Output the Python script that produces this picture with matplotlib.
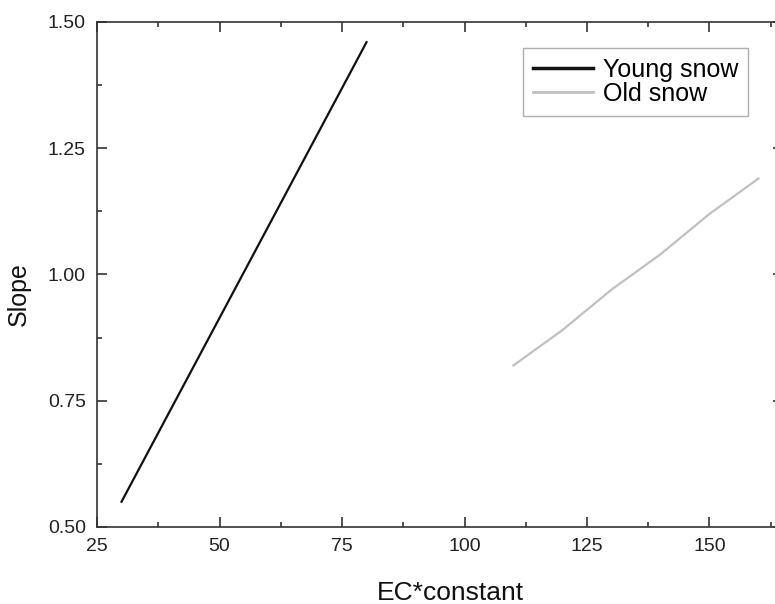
import matplotlib.pyplot as plt
from matplotlib.ticker import MultipleLocator

plt.rcParams['font.family'] = ['Liberation Sans', 'DejaVu Sans']

# data
young_x = [30, 40, 50, 60, 70, 80]
young_y = [0.550, 0.732, 0.914, 1.096, 1.278, 1.460]
old_x = [110, 120, 130, 140, 150, 160]
old_y = [0.82, 0.89, 0.97, 1.04, 1.12, 1.19]

fig = plt.figure(figsize=(7.75, 6.04), dpi=100)
ax = fig.add_axes([0.1252, 0.1275, 0.8851, 0.8361])

ax.plot(young_x, young_y, color='#111111', lw=1.6, label='Young snow')
ax.plot(old_x, old_y, color='#c0c0c0', lw=1.6, label='Old snow')

ax.set_xlim(25, 165)
ax.set_ylim(0.5, 1.5)
ax.xaxis.set_major_locator(MultipleLocator(25))
ax.xaxis.set_minor_locator(MultipleLocator(12.5))
ax.yaxis.set_major_locator(MultipleLocator(0.25))
ax.yaxis.set_minor_locator(MultipleLocator(0.125))
ax.yaxis.set_major_formatter(plt.FormatStrFormatter('%.2f'))

for s in ax.spines.values():
    s.set_linewidth(1.2)
    s.set_color('#333333')
ax.tick_params(which='both', direction='in', top=True, right=True,
               color='#333333', width=1.2, labelsize=14, pad=8, labelcolor='#222222')
ax.tick_params(which='major', length=7)
ax.tick_params(which='minor', length=3.5)

ax.set_xlabel('EC*constant', fontsize=19, labelpad=19, color='#111111')
ax.set_ylabel('Slope', fontsize=18, labelpad=12, color='#111111')
ax.xaxis.label.set_x(0.5146)
ax.yaxis.label.set_y(0.461)

leg = ax.legend(loc='upper right', bbox_to_anchor=(748 / 775, 1 - 48 / 604),
                bbox_transform=fig.transFigure, borderaxespad=0, fontsize=18,
                fancybox=False, frameon=True, handlelength=2.4, handletextpad=0.4,
                labelspacing=0.0, borderpad=0.4)
leg.get_frame().set_edgecolor('#999999')
leg.get_frame().set_linewidth(1.0)
leg.get_lines()[0].set_linewidth(2.5)
leg.get_lines()[1].set_linewidth(2.0)

fig.savefig('out.png', dpi=100)
